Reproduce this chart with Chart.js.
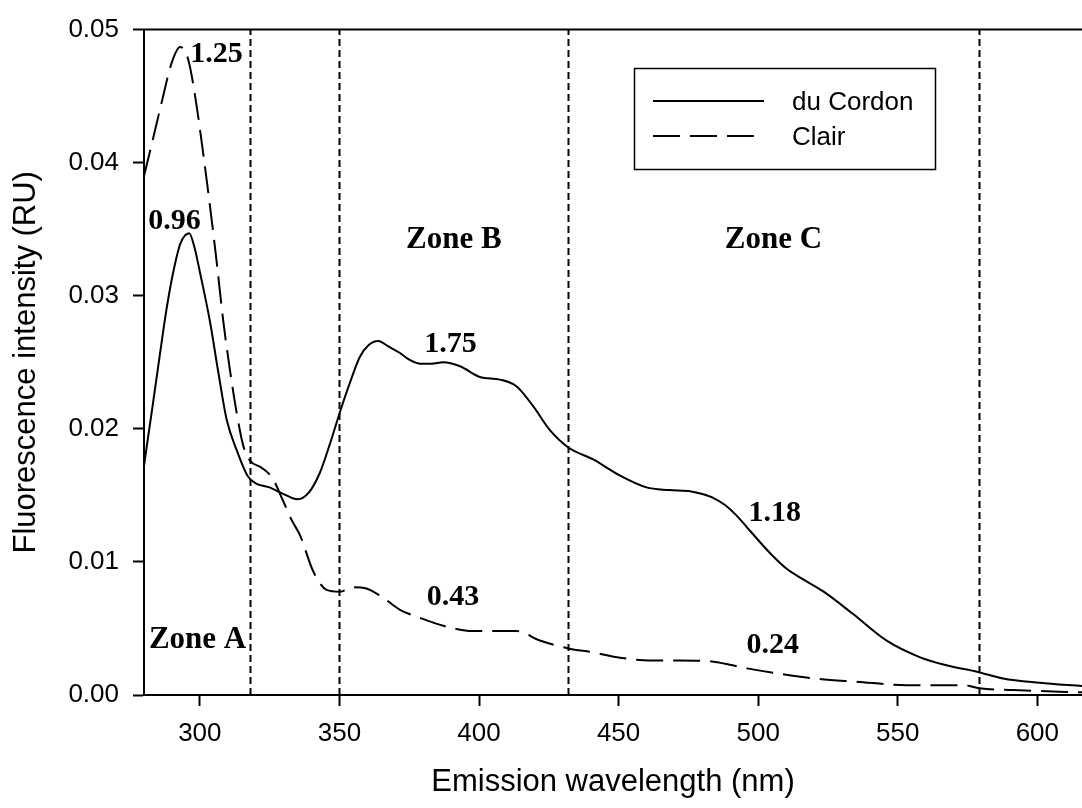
<!DOCTYPE html>
<html><head><meta charset="utf-8">
<script src="https://cdn.jsdelivr.net/npm/chart.js@4.4.0/dist/chart.umd.min.js"></script>
<style>html,body{margin:0;padding:0;background:#fff;} canvas{display:block;}</style>
</head><body>
<canvas id="c" width="1082" height="808"></canvas>
<script>
// ---- data ----
const seriesNames = ['du Cordon', 'Clair'];
const cordonWl = [280,281,283,285.7,288,290.5,293,296.2,298,300,303.6,306.5,309.6,313.2,317,320,325,330,335,339,343,346.5,350.4,354,357.3,360.5,363.9,367.5,371.7,375,378.8,383,387.2,393.2,400.3,407.5,413.4,419.4,425.4,432,440.9,450.4,460,468,476,480,484,488,492.2,496,500.6,505,510.1,516,523.2,533.9,545.9,557.8,567.4,578.7,587.7,600.8,616];
const cordonVal = [0.0172,0.0187,0.0216,0.0256,0.0289,0.0318,0.0339,0.0347,0.0337,0.0318,0.0281,0.0244,0.0207,0.0184,0.0165,0.0159,0.0156,0.0151,0.0147,0.0152,0.0167,0.0188,0.0214,0.0236,0.0254,0.0263,0.0266,0.0262,0.0257,0.0252,0.0249,0.0249,0.0250,0.0247,0.0239,0.0237,0.0232,0.0217,0.0199,0.0186,0.0177,0.0165,0.0156,0.0154,0.0153,0.0151,0.0148,0.0143,0.0135,0.0126,0.0115,0.0105,0.0095,0.0087,0.0078,0.0061,0.0041,0.00285,0.00223,0.00173,0.00124,0.00092,0.00067];
const clairWl = [280,282.1,286.3,289.9,292.9,295.9,298.9,301.2,303.6,306,308.4,310.8,313.2,315.6,318,322,326,330,333,335.9,340.6,345.4,350.2,355,359.7,365.7,371.7,378.8,387.2,397.9,407.5,413.4,421.8,432,440.9,450.5,461.2,472,484,496,507.7,522,535.2,553.1,573.4,579.3,591.3,616];
const clairVal = [0.0390,0.0408,0.0445,0.0475,0.0487,0.0477,0.0442,0.0407,0.0368,0.0326,0.0281,0.0244,0.0212,0.0187,0.0176,0.0171,0.0163,0.0145,0.0131,0.0120,0.0093,0.0079,0.00776,0.0081,0.0080,0.0073,0.0064,0.0058,0.0052,0.0048,0.0048,0.0048,0.0041,0.0035,0.0032,0.0028,0.0026,0.0026,0.0025,0.0020,0.0016,0.0012,0.0010,0.00074,0.00074,0.0005,0.00037,0.0002];
const xTicks = [300,350,400,450,500,550,600];
const yTicks = [0,0.01,0.02,0.03,0.04,0.05];
const zoneBounds = [318,350,432,579];
const zoneLabels = ['Zone A','Zone B','Zone C'];
const zoneLabelAt = [[299.2,0.0035],[391,0.0336],[505.5,0.0336]];
const areaLabels = ['1.25','0.96','1.75','0.43','1.18','0.24'];
const areaLabelAt = [[306,0.0476],[290.9,0.0350],[389.8,0.0258],[390.7,0.0068],[505.9,0.0131],[505.2,0.00315]];

const SANS = "'Liberation Sans', Arial, sans-serif";
const SERIF = "'Liberation Serif', 'Times New Roman', serif";

const overlay = {
  id: 'overlay',
  beforeDatasetsDraw(chart) {
    const {ctx, chartArea: a, scales: {x, y}} = chart;
    ctx.save();
    ctx.strokeStyle = '#000';
    ctx.lineWidth = 2;
    ctx.setLineDash([7, 4]);
    zoneBounds.forEach(v => {
      const px = Math.round(x.getPixelForValue(v)) + 0.5;
      ctx.beginPath(); ctx.moveTo(px, a.bottom); ctx.lineTo(px, a.top); ctx.stroke();
    });
    ctx.setLineDash([]);
    ctx.beginPath(); ctx.moveTo(a.left - 1, a.top); ctx.lineTo(chart.width, a.top); ctx.stroke();
    ctx.restore();
  },
  afterDraw(chart) {
    const {ctx, scales: {x, y}} = chart;
    ctx.save();
    ctx.fillStyle = '#000';
    ctx.textAlign = 'center';
    ctx.textBaseline = 'alphabetic';
    ctx.font = "bold 31px " + SERIF;
    zoneLabels.forEach((t, i) => ctx.fillText(t, x.getPixelForValue(zoneLabelAt[i][0]), y.getPixelForValue(zoneLabelAt[i][1])));
    ctx.font = "bold 30px " + SERIF;
    areaLabels.forEach((t, i) => ctx.fillText(t, x.getPixelForValue(areaLabelAt[i][0]), y.getPixelForValue(areaLabelAt[i][1])));
    // legend
    const bx = 634, by = 68, bw = 301, bh = 101;
    ctx.lineWidth = 1.5; ctx.strokeStyle = '#000';
    ctx.strokeRect(bx + 0.5, by + 0.5, bw, bh);
    const ds = chart.data.datasets;
    const rows = [101, 136];
    ds.forEach((d, i) => {
      ctx.lineWidth = 2;
      ctx.setLineDash(d.borderDash || []);
      ctx.beginPath(); ctx.moveTo(653, rows[i]); ctx.lineTo(764, rows[i]); ctx.stroke();
      ctx.setLineDash([]);
      ctx.font = "26px " + SANS;
      ctx.textAlign = 'left';
      ctx.textBaseline = 'middle';
      ctx.fillText(d.label, 792, rows[i] + 2);
    });
    ctx.restore();
  }
};

new Chart(document.getElementById('c'), {
  type: 'line',
  data: {
    datasets: [
      { label: seriesNames[0], data: cordonWl.map((v, i) => ({x: v, y: cordonVal[i]})), borderColor: '#000', borderWidth: 2, pointRadius: 0, cubicInterpolationMode: 'monotone', fill: false },
      { label: seriesNames[1], data: clairWl.map((v, i) => ({x: v, y: clairVal[i]})), borderColor: '#000', borderWidth: 2, borderDash: [27, 10], pointRadius: 0, cubicInterpolationMode: 'monotone', fill: false }
    ]
  },
  options: {
    responsive: false, animation: false, devicePixelRatio: 1,
    layout: { padding: { top: 23, right: 0, left: 0, bottom: 0 } },
    plugins: { legend: { display: false }, tooltip: { enabled: false } },
    scales: {
      x: {
        type: 'linear', min: 280, max: 616,
        afterBuildTicks: s => { s.ticks = xTicks.map(v => ({value: v})); },
        afterFit: s => { s.height = 113; },
        grid: { display: true, drawOnChartArea: false, drawTicks: true, tickLength: 11, tickWidth: 2, tickColor: '#000', color: '#000' },
        border: { display: true, color: '#000', width: 2 },
        ticks: { color: '#000', font: { family: SANS, size: 26 }, padding: 12, maxRotation: 0, autoSkip: false },
        title: { display: true, text: 'Emission wavelength (nm)', color: '#000', font: { family: SANS, size: 31 }, padding: { top: 0, bottom: 7 } }
      },
      y: {
        type: 'linear', min: 0, max: 0.05,
        afterBuildTicks: s => { s.ticks = yTicks.map(v => ({value: v})); },
        afterFit: s => { s.width = 144; },
        grid: { display: true, drawOnChartArea: false, drawTicks: true, tickLength: 11, tickWidth: 2, tickColor: '#000', color: '#000' },
        border: { display: true, color: '#000', width: 2 },
        ticks: { color: '#000', font: { family: SANS, size: 26 }, padding: 14, callback: v => Number(v).toFixed(2), autoSkip: false },
        title: { display: true, text: 'Fluorescence intensity (RU)', color: '#000', font: { family: SANS, size: 31 }, padding: { top: 8, bottom: 0 } }
      }
    }
  },
  plugins: [overlay]
});
</script>
</body></html>
